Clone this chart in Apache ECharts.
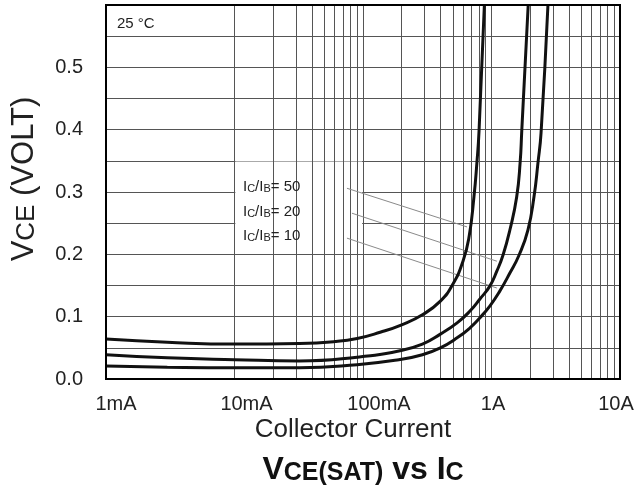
<!DOCTYPE html>
<html>
<head>
<meta charset="utf-8">
<script src="https://cdn.jsdelivr.net/npm/echarts@6/dist/echarts.min.js"></script>
<style>html,body{margin:0;padding:0;background:#fff}#c{width:638px;height:488px}</style>
</head>
<body>
<div id="c"></div>
<script>
// ---- data ----
const xTickLabels = ['1mA', '10mA', '100mA', '1A', '10A'];
const yTickLabels = ['0.0', '0.1', '0.2', '0.3', '0.4', '0.5'];
const seriesNames = ['Ic/Ib=50', 'Ic/Ib=20', 'Ic/Ib=10'];

const ic50  = [0.001, 0.003, 0.01, 0.032, 0.06, 0.09, 0.136, 0.2, 0.29, 0.4, 0.5, 0.6, 0.67, 0.73, 0.77, 0.8, 0.88];
const vce50 = [0.064, 0.059, 0.056, 0.057, 0.06, 0.065, 0.075, 0.087, 0.103, 0.125, 0.152, 0.189, 0.229, 0.292, 0.347, 0.398, 0.6];

const ic20  = [0.001, 0.003, 0.01, 0.032, 0.09, 0.19, 0.29, 0.4, 0.54, 0.68, 0.81, 0.97, 1.1, 1.23, 1.39, 1.57, 1.67, 1.72, 1.93];
const vce20 = [0.039, 0.034, 0.031, 0.029, 0.035, 0.045, 0.056, 0.072, 0.09, 0.109, 0.128, 0.149, 0.173, 0.199, 0.239, 0.292, 0.347, 0.398, 0.6];

const ic10  = [0.001, 0.003, 0.01, 0.032, 0.09, 0.19, 0.29, 0.4, 0.54, 0.68, 0.81, 0.97, 1.16, 1.39, 1.64, 1.92, 2.14, 2.3, 2.43, 2.75];
const vce10 = [0.021, 0.019, 0.018, 0.018, 0.023, 0.031, 0.039, 0.05, 0.066, 0.082, 0.098, 0.117, 0.141, 0.17, 0.199, 0.239, 0.292, 0.347, 0.395, 0.6];

// leader lines from the labels to the curves: [startI, startV, endI, endV]
const leader50 = [0.075, 0.306, 0.645, 0.244];
const leader20 = [0.082, 0.266, 1.10, 0.189];
const leader10 = [0.075, 0.226, 1.10, 0.146];

// ---- chart ----
const FONT = "'Liberation Sans', Arial, Helvetica, sans-serif";
const pair = (xs, ys) => xs.map((x, i) => [x, ys[i]]);
const chart = echarts.init(document.getElementById('c'), null, { renderer: 'canvas' });

const minorLines = [];
[0.001, 0.01, 0.1, 1].forEach(d => { for (let k = 2; k <= 9; k++) minorLines.push({ xAxis: d * k }); });

const gridColor = '#555';
const curveStyle = { color: '#111', width: 3 };
const labelOffsets = [20, 24, 32, 3, -8];
const curveCommon = { type: 'line', z: 5, showSymbol: false, smooth: 0.5, lineStyle: curveStyle, clip: true };

const option = {
  animation: false,
  backgroundColor: '#fff',
  grid: { left: 106, top: 5, right: 18, bottom: 109, containLabel: false },
  xAxis: {
    type: 'log', logBase: 10, min: 0.001, max: 10,
    axisLine: { show: false }, axisTick: { show: false },
    splitLine: { show: true, lineStyle: { color: gridColor, width: 1 } },
    axisLabel: {
      margin: 15, color: '#222', fontFamily: FONT, fontSize: 20,
      formatter: function (v) {
        const i = Math.round(Math.log10(v) + 3);
        if (i < 0 || i >= xTickLabels.length) return '';
        return '{p' + i + '|' + xTickLabels[i] + '}';
      },
      rich: {
        p0: { fontSize: 20, fontFamily: FONT, color: '#222', padding: [0, 0, 0, labelOffsets[0]] },
        p1: { fontSize: 20, fontFamily: FONT, color: '#222', padding: [0, 0, 0, labelOffsets[1]] },
        p2: { fontSize: 20, fontFamily: FONT, color: '#222', padding: [0, 0, 0, labelOffsets[2]] },
        p3: { fontSize: 20, fontFamily: FONT, color: '#222', padding: [0, 0, 0, labelOffsets[3]] },
        p4: { fontSize: 20, fontFamily: FONT, color: '#222', padding: [0, -labelOffsets[4], 0, 0] }
      }
    }
  },
  yAxis: {
    type: 'value', min: 0, max: 0.6, interval: 0.05,
    axisLine: { show: false }, axisTick: { show: false },
    splitLine: { show: true, lineStyle: { color: gridColor, width: 1 } },
    axisLabel: {
      margin: 23, color: '#222', fontFamily: FONT, fontSize: 20,
      formatter: function (v) {
        const i = Math.round(v / 0.1);
        if (Math.abs(v - i * 0.1) > 1e-6 || i >= yTickLabels.length) return '';
        return yTickLabels[i];
      }
    }
  },
  series: [
    { // minor vertical grid lines of the log axis
      type: 'line', data: [], z: 1, silent: true,
      markLine: {
        silent: true, symbol: 'none', label: { show: false }, animation: false,
        lineStyle: { color: gridColor, width: 1, type: 'solid' },
        data: minorLines
      }
    },
    { // white label boxes that cover the grid
      type: 'line', data: [], z: 3, silent: true,
      markArea: {
        silent: true, itemStyle: { color: '#fff' }, label: { show: false },
        data: [
          [{ xAxis: 0.001025, yAxis: 0.5508 }, { xAxis: 0.00262, yAxis: 0.5975 }],
          [{ xAxis: 0.01015, yAxis: 0.2012 }, { xAxis: 0.0985, yAxis: 0.3488 }]
        ]
      }
    },
    {
      type: 'line', data: [], z: 4, silent: true,
      markLine: {
        silent: true, symbol: 'none', label: { show: false }, animation: false,
        lineStyle: { color: '#8a8a8a', width: 1, type: 'solid' },
        data: [leader50, leader20, leader10].map(l => [{ coord: [l[0], l[1]] }, { coord: [l[2], l[3]] }])
      }
    },
    Object.assign({ name: seriesNames[0], data: pair(ic50, vce50) }, curveCommon),
    Object.assign({ name: seriesNames[1], data: pair(ic20, vce20) }, curveCommon),
    Object.assign({ name: seriesNames[2], data: pair(ic10, vce10) }, curveCommon)
  ],
  graphic: [
    { type: 'rect', z: 100, silent: true, shape: { x: 106, y: 5, width: 514, height: 374 }, style: { fill: null, stroke: '#000', lineWidth: 2 } },
    { type: 'text', z: 100, x: 117, y: 24, style: { text: '25 °C', font: '15px ' + FONT, fill: '#222', verticalAlign: 'middle' } },
    { type: 'text', z: 100, x: 243, y: 187, style: { text: '{a|I}{b|C}{a|/I}{b|B}{a|= 50}', verticalAlign: 'middle',
        rich: { a: { fontSize: 15, fontFamily: FONT, fill: '#222', verticalAlign: 'bottom' }, b: { fontSize: 11, fontFamily: FONT, fill: '#222', verticalAlign: 'bottom' } } } },
    { type: 'text', z: 100, x: 243, y: 212, style: { text: '{a|I}{b|C}{a|/I}{b|B}{a|= 20}', verticalAlign: 'middle',
        rich: { a: { fontSize: 15, fontFamily: FONT, fill: '#222', verticalAlign: 'bottom' }, b: { fontSize: 11, fontFamily: FONT, fill: '#222', verticalAlign: 'bottom' } } } },
    { type: 'text', z: 100, x: 243, y: 236, style: { text: '{a|I}{b|C}{a|/I}{b|B}{a|= 10}', verticalAlign: 'middle',
        rich: { a: { fontSize: 15, fontFamily: FONT, fill: '#222', verticalAlign: 'bottom' }, b: { fontSize: 11, fontFamily: FONT, fill: '#222', verticalAlign: 'bottom' } } } },
    { type: 'text', z: 100, x: 24, y: 179, rotation: Math.PI / 2, style: { text: '{a|V}{b|CE}{a| (VOLT)}', align: 'center', verticalAlign: 'middle',
        rich: { a: { fontSize: 31, fontFamily: FONT, fill: '#222', verticalAlign: 'bottom' }, b: { fontSize: 26, fontFamily: FONT, fill: '#222', verticalAlign: 'bottom' } } } },
    { type: 'text', z: 100, x: 353, y: 430, style: { text: 'Collector Current', font: '26px ' + FONT, fill: '#222', align: 'center', verticalAlign: 'middle' } },
    { type: 'text', z: 100, x: 363, y: 470, style: { text: '{a|V}{b|CE(SAT)}{a| vs I}{b|C}', align: 'center', verticalAlign: 'middle',
        rich: { a: { fontSize: 32, fontWeight: 'bold', fontFamily: FONT, fill: '#111', verticalAlign: 'bottom' }, b: { fontSize: 25, fontWeight: 'bold', fontFamily: FONT, fill: '#111', verticalAlign: 'bottom' } } } }
  ]
};
chart.setOption(option);
</script>
</body>
</html>
